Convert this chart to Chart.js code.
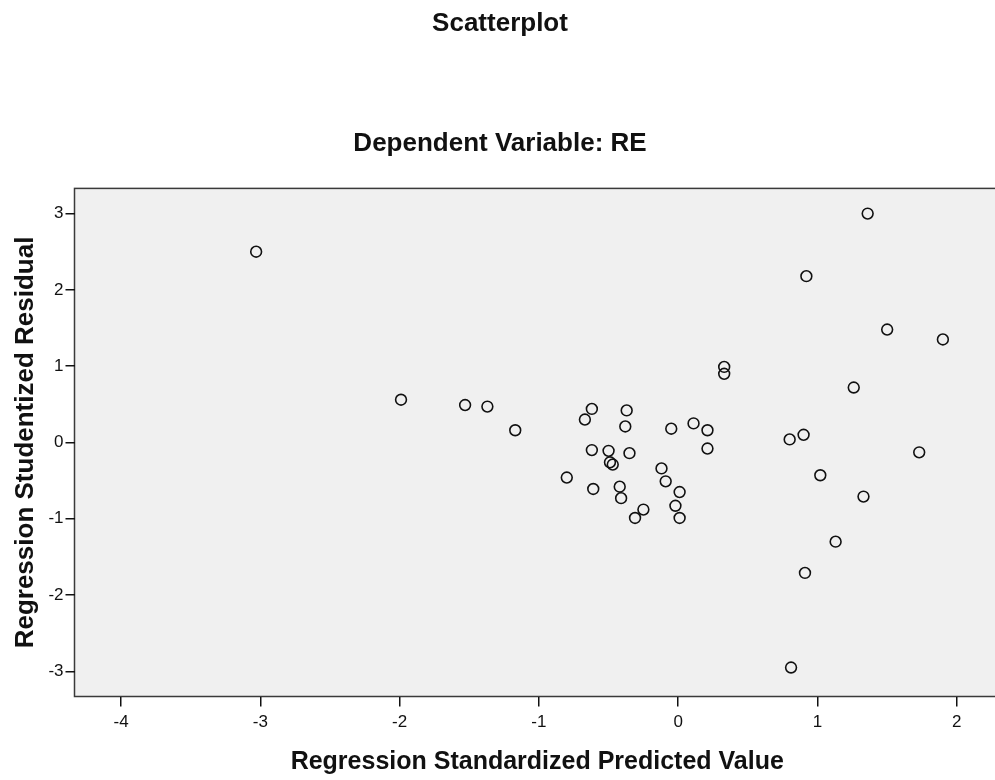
<!DOCTYPE html>
<html>
<head>
<meta charset="utf-8">
<title>Scatterplot</title>
<script src="https://cdn.jsdelivr.net/npm/chart.js@4/dist/chart.umd.min.js"></script>
<style>
    html, body { margin: 0; padding: 0; background: #fff; overflow: hidden; }
    #wrap { width: 995px; height: 780px; overflow: hidden; }
</style>
</head>
<body>
<div id="wrap"><canvas id="scatterChart" width="1000" height="780"></canvas></div>
<script>
// Regression Standardized Predicted Value (x) / Studentized Residual (y)
const predictedValues = [
    -3.03, -1.99, -1.53, -1.37, -1.17, -0.62, -0.67, -0.37, -0.38, -0.05,
     0.11,  0.21,  0.21, -0.62, -0.50, -0.49, -0.47, -0.35, -0.80, -0.61,
    -0.42, -0.41, -0.25, -0.31, -0.12, -0.09,  0.01, -0.02,  0.01,  1.36,
     0.92,  1.50,  1.90,  0.33,  0.33,  1.26,  0.80,  0.90,  1.73,  1.02,
     1.33,  1.13,  0.91,  0.81
];
const residualValues = [
     2.50,  0.56,  0.49,  0.47,  0.16,  0.44,  0.30,  0.42,  0.21,  0.18,
     0.25,  0.16, -0.08, -0.10, -0.11, -0.26, -0.29, -0.14, -0.46, -0.61,
    -0.58, -0.73, -0.88, -0.99, -0.34, -0.51, -0.65, -0.83, -0.99,  3.00,
     2.18,  1.48,  1.35,  0.99,  0.90,  0.72,  0.04,  0.10, -0.13, -0.43,
    -0.71, -1.30, -1.71, -2.95
];
const xTickValues = [-4, -3, -2, -1, 0, 1, 2];
const yTickValues = [-3, -2, -1, 0, 1, 2, 3];

const FONT = '"Liberation Sans", Arial, sans-serif';
const INK = '#111';

const points = predictedValues.map((x, i) => ({ x: x, y: residualValues[i] }));

// grey plot panel with a frame; the right edge runs off the page like in the original
const plotFrame = {
    id: 'plotFrame',
    beforeDraw(chart) {
        const { ctx, chartArea } = chart;
        const w = chartArea.right - chartArea.left + 10;
        const h = chartArea.bottom - chartArea.top;
        ctx.save();
        ctx.fillStyle = '#f0f0f0';
        ctx.fillRect(chartArea.left, chartArea.top, w, h);
        ctx.strokeStyle = '#3a3a3a';
        ctx.lineWidth = 1.5;
        ctx.strokeRect(chartArea.left, chartArea.top, w, h);
        ctx.restore();
    }
};

const ctx = document.getElementById('scatterChart').getContext('2d');
new Chart(ctx, {
    type: 'scatter',
    data: {
        datasets: [{
            label: 'Residuals',
            data: points,
            pointStyle: 'circle',
            pointRadius: 5.4,
            pointBorderWidth: 1.6,
            pointBorderColor: INK,
            pointBackgroundColor: 'rgba(0,0,0,0)'
        }]
    },
    options: {
        responsive: false,
        animation: false,
        layout: { padding: 0, autoPadding: false },
        plugins: {
            legend: { display: false },
            tooltip: { enabled: false },
            title: {
                display: true,
                text: 'Scatterplot',
                color: INK,
                font: { family: FONT, size: 26, weight: 'bold' },
                padding: { top: 8, bottom: 0 }
            },
            subtitle: {
                display: true,
                text: 'Dependent Variable: RE',
                color: INK,
                font: { family: FONT, size: 26, weight: 'bold' },
                padding: { top: 89, bottom: 29 }
            }
        },
        scales: {
            x: {
                type: 'linear',
                min: -4.334,
                max: 2.31,
                afterBuildTicks: (scale) => { scale.ticks = xTickValues.map(v => ({ value: v })); },
                afterFit: (scale) => { scale.height = 83.5; },
                border: { display: false },
                grid: {
                    drawOnChartArea: false,
                    drawTicks: true,
                    tickLength: 10,
                    color: INK,
                    lineWidth: 1.5
                },
                ticks: {
                    color: INK,
                    padding: 6,
                    maxRotation: 0,
                    font: { family: FONT, size: 17 }
                },
                title: {
                    display: true,
                    text: 'Regression Standardized Predicted Value',
                    color: INK,
                    font: { family: FONT, size: 25, weight: 'bold' },
                    padding: { top: 0, bottom: 3 }
                }
            },
            y: {
                type: 'linear',
                min: -3.33,
                max: 3.33,
                afterBuildTicks: (scale) => { scale.ticks = yTickValues.map(v => ({ value: v })); },
                afterFit: (scale) => { scale.width = 74.5; },
                border: { display: false },
                grid: {
                    drawOnChartArea: false,
                    drawTicks: true,
                    tickLength: 9,
                    color: INK,
                    lineWidth: 1.5
                },
                ticks: {
                    color: INK,
                    padding: 2,
                    font: { family: FONT, size: 17 }
                },
                title: {
                    display: true,
                    text: 'Regression Studentized Residual',
                    color: INK,
                    font: { family: FONT, size: 26, weight: 'bold' },
                    padding: { top: 10, bottom: 0 }
                }
            }
        }
    },
    plugins: [plotFrame]
});
</script>
</body>
</html>
